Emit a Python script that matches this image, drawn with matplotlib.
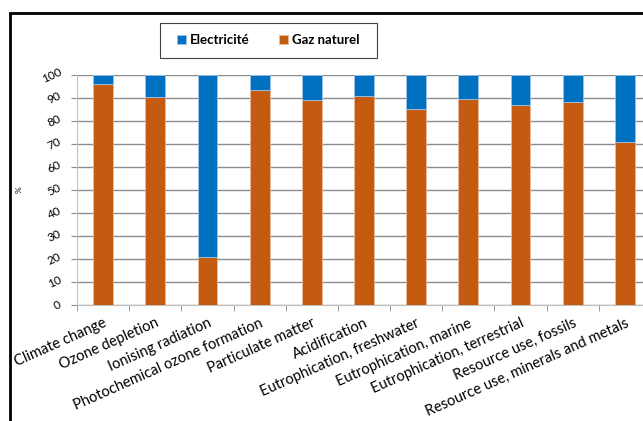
import numpy as np
import matplotlib.pyplot as plt
from matplotlib.patches import Rectangle

categories = [
    "Climate change", "Ozone depletion", "Ionising radiation",
    "Photochemical ozone formation", "Particulate matter", "Acidification",
    "Eutrophication, freshwater", "Eutrophication, marine",
    "Eutrophication, terrestrial", "Resource use, fossils",
    "Resource use, minerals and metals",
]
gaz_naturel = [96.0, 90.3, 20.7, 93.3, 89.1, 90.8, 85.2, 89.6, 87.1, 88.3, 70.9]
electricite = [100 - v for v in gaz_naturel]

blue = "#0070C0"
orange = "#C55A11"

plt.rcParams['font.family'] = ['Lato', 'DejaVu Sans']

W, H = 643, 421
fig = plt.figure(figsize=(W / 100, H / 100), dpi=100)
ax = fig.add_axes([77 / W, 1 - 305 / H, 574 / W, 230 / H])

x = np.arange(len(categories))
w = 0.38
ax.bar(x, gaz_naturel, w, color=orange, edgecolor="#e8b89a", linewidth=0.6,
       label="Gaz naturel", zorder=3)
ax.bar(x, electricite, w, bottom=gaz_naturel, color=blue, edgecolor="#9cc3e6",
       linewidth=0.6, label="Electricité", zorder=3)

ax.set_xlim(-0.5, len(categories) - 0.5)
ax.set_ylim(0, 100)
ax.set_yticks(range(0, 101, 10))
ax.yaxis.grid(True, color="#8c8c8c", linewidth=1.0, zorder=0)
for s in ["top", "right"]:
    ax.spines[s].set_visible(False)
ax.spines["left"].set_color("#bfbfbf")
ax.spines["bottom"].set_color("#bfbfbf")
ax.tick_params(axis="y", colors="#8c8c8c", length=4, labelcolor="black",
               labelsize=8.5, pad=6)
ax.tick_params(axis="x", length=0, labelsize=10.5, pad=8)
for lab in ax.get_yticklabels():
    lab.set_rotation(25)
    lab.set_va("center")

# category boundary ticks below the axis
ax.set_xticks(x)
ax.set_xticklabels(categories, rotation=24, ha="right", rotation_mode="anchor")
ax.set_xticks(np.arange(-0.5, len(categories), 1.0), minor=True)
ax.tick_params(axis="x", which="minor", length=4, color="#8c8c8c")

ax.set_ylabel("%", fontsize=6, labelpad=12)

handles, labels = ax.get_legend_handles_labels()
leg = fig.legend(handles[::-1], labels[::-1], loc="center",
                 bbox_to_anchor=(268 / W, 1 - 40 / H), ncol=2,
                 prop={"weight": "bold", "size": 9.5}, frameon=False,
                 handlelength=0.7, handleheight=0.7, columnspacing=2.2,
                 handletextpad=0.3)

# legend box and outer chart frame
fig.patches.append(Rectangle((160 / W, 1 - 58 / H), 217 / W, 35 / H,
                             transform=fig.transFigure, fill=False,
                             edgecolor="#404040", linewidth=0.8))
fig.patches.append(Rectangle((10 / W, -0.1), 1.2, 1 - 13 / H + 0.1,
                             transform=fig.transFigure, fill=False,
                             edgecolor="black", linewidth=2))

fig.savefig("out.png", dpi=100)
